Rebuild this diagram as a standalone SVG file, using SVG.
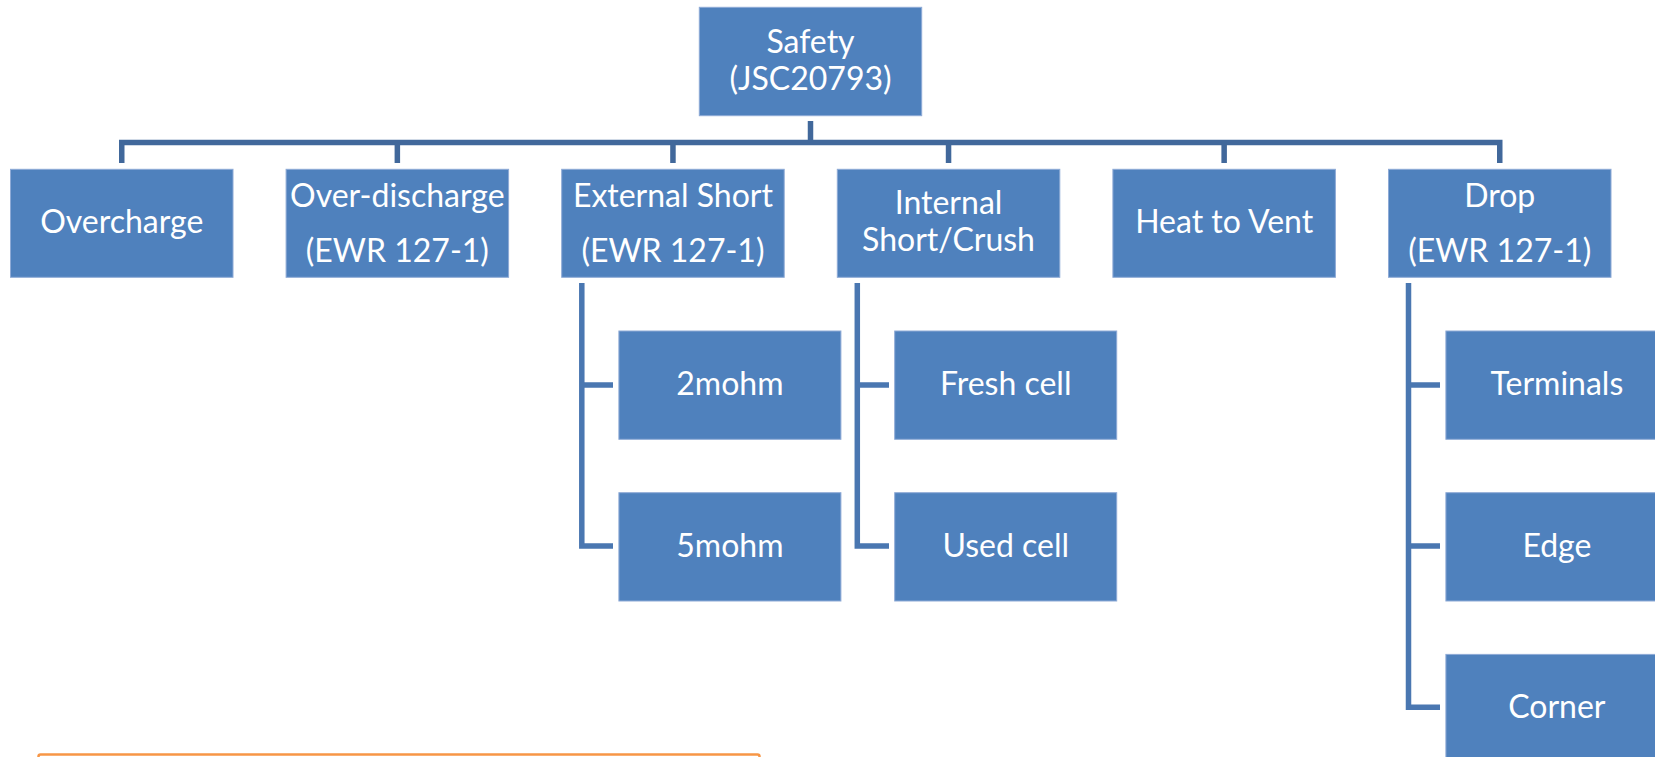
<svg xmlns="http://www.w3.org/2000/svg" width="1655" height="757" viewBox="0 0 1655 757">
<style>
.box{fill:#4F81BD;stroke:#8EAAD6;stroke-width:1}
.t{font-family:Lato,"Liberation Sans",sans-serif;font-size:32px;fill:#FFFFFF;text-anchor:middle}
.bus{fill:none;stroke:#41689B;stroke-width:5.5}
.sub{fill:none;stroke:#4A77B1;stroke-width:5.5}
</style>
<rect width="1655" height="757" fill="#FFFFFF"/>
<g id="connectors">
<path class="bus" d="M810.5,121 V142.5"/>
<path class="bus" d="M121.75,163 V142.5 H1499.75 V163"/>
<path class="bus" d="M397.35,142.5 V163 M672.95,142.5 V163 M948.55,142.5 V163 M1224.15,142.5 V163"/>
<path class="sub" d="M581.8,283 V546 H613 M581.8,385 H613"/>
<path class="sub" d="M857.3,283 V546 H889 M857.3,385 H889"/>
<path class="sub" d="M1408.5,283 V707.3 H1440 M1408.5,385 H1440 M1408.5,546 H1440"/>
</g>
<g id="safety">
<rect class="box" x="699.3" y="7.3" width="222.4" height="108.4"/>
<text class="t" x="810.5" y="52.5">Safety</text>
<text class="t" x="810.5" y="89.5">(JSC20793)</text>
</g>
<g id="overcharge">
<rect class="box" x="10.5" y="169.3" width="222.5" height="108"/>
<text class="t" x="121.75" y="232.5">Overcharge</text>
</g>
<g id="overdischarge">
<rect class="box" x="286.1" y="169.3" width="222.5" height="108"/>
<text class="t" x="397.35" y="207">Over-discharge</text>
<text class="t" x="397.35" y="261.5">(EWR 127-1)</text>
</g>
<g id="externalshort">
<rect class="box" x="561.7" y="169.3" width="222.5" height="108"/>
<text class="t" x="672.95" y="207">External Short</text>
<text class="t" x="672.95" y="261.5">(EWR 127-1)</text>
</g>
<g id="internalshort">
<rect class="box" x="837.3" y="169.3" width="222.5" height="108"/>
<text class="t" x="948.55" y="214">Internal</text>
<text class="t" x="948.55" y="250.7">Short/Crush</text>
</g>
<g id="heattovent">
<rect class="box" x="1112.9" y="169.3" width="222.5" height="108"/>
<text class="t" x="1224.15" y="232.5">Heat to Vent</text>
</g>
<g id="drop">
<rect class="box" x="1388.5" y="169.3" width="222.5" height="108"/>
<text class="t" x="1499.75" y="207">Drop</text>
<text class="t" x="1499.75" y="261.5">(EWR 127-1)</text>
</g>
<g id="mohm2">
<rect class="box" x="618.9" y="331" width="222" height="108.3"/>
<text class="t" x="729.9" y="395">2mohm</text>
</g>
<g id="mohm5">
<rect class="box" x="618.9" y="492.7" width="222" height="108.3"/>
<text class="t" x="729.9" y="556.7">5mohm</text>
</g>
<g id="freshcell">
<rect class="box" x="894.7" y="331" width="222" height="108.3"/>
<text class="t" x="1005.7" y="395">Fresh cell</text>
</g>
<g id="usedcell">
<rect class="box" x="894.7" y="492.7" width="222" height="108.3"/>
<text class="t" x="1005.7" y="556.7">Used cell</text>
</g>
<g id="terminals">
<rect class="box" x="1445.9" y="331" width="222" height="108.3"/>
<text class="t" x="1556.9" y="395">Terminals</text>
</g>
<g id="edge">
<rect class="box" x="1445.9" y="492.7" width="222" height="108.3"/>
<text class="t" x="1556.9" y="556.7">Edge</text>
</g>
<g id="corner">
<rect class="box" x="1445.9" y="654.4" width="222" height="108.3"/>
<text class="t" x="1556.9" y="718.4">Corner</text>
</g>
<g id="orangebox">
<rect x="38.5" y="754.5" width="721" height="30" rx="2" fill="#FFFFFF" stroke="#F79646" stroke-width="2.5"/>
</g>
</svg>
